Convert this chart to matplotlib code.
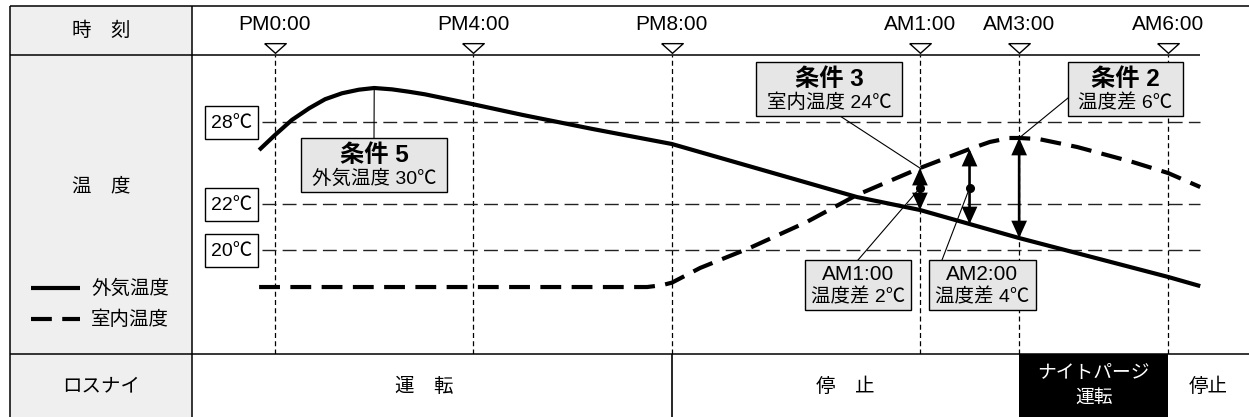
import matplotlib
matplotlib.use('Agg')
import matplotlib.pyplot as plt
import numpy as np
from matplotlib.patches import Rectangle
from matplotlib.path import Path

plt.rcParams['font.family'] = ['Liberation Sans', 'Noto Sans CJK JP']

W, H = 1249, 417

# time in hours, values above 24 are the next morning
tick_hours = [12, 16, 20, 25, 27, 30]
tick_labels = ['PM0:00', 'PM4:00', 'PM8:00', 'AM1:00', 'AM3:00', 'AM6:00']

# outdoor temperature (solid)
out_hours = [11.68, 12.0, 12.34, 12.69, 13.01, 13.35, 13.69, 14.0, 14.36, 14.7, 15.02,
             16.0, 17.0, 18.4, 20.0, 23.73, 25.0, 26.0, 27.0, 30.0, 30.65]
out_temps = [25.95, 27.05, 28.12, 28.81, 29.34, 29.69, 29.9, 30.0, 29.92, 29.78, 29.63,
             29.04, 28.41, 27.49, 26.39, 22.51, 21.74, 21.13, 20.52, 18.83, 18.43]

# indoor temperature (dashed)
in_hours = [11.68, 19.5, 19.8, 20.0, 20.57, 21.57, 22.72, 23.73, 25.0, 26.0, 26.41,
            26.8, 27.0, 27.4, 28.17, 29.29, 30.0, 30.65]
in_temps = [18.39, 18.39, 18.47, 18.58, 19.22, 20.09, 21.22, 22.66, 24.63, 26.02, 26.54,
            26.83, 26.83, 26.75, 26.17, 25.07, 24.27, 23.24]

ref_temps = [28, 22, 20]
ref_labels = ['28℃', '22℃', '20℃']

# temperature difference arrows
arrow_hours = [25, 26, 27]
arrow_low = [21.74, 21.13, 20.52]
arrow_high = [24.63, 26.02, 26.83]
dot_hours = [25, 26]
dot_temps = [23.17, 23.17]
peak_hour, peak_temp = 14.0, 30.0

# ロスナイ operation row
mode_changes = [20]
purge_start, purge_end = 27, 30
mode_labels = ['運　転', '停　止', 'ナイトパージ\n運転', '停止']
mode_centers = [15.0, 23.5, 28.5, 30.82]

# the drawing's temperature axis is schematic (not linear)
scale_t = [10, 20, 22, 28, 30, 36]
scale_u = [-126, 104, 150, 232, 266, 368]


def fwd(t):
    return np.interp(t, scale_t, scale_u)


def inv(u):
    return np.interp(u, scale_u, scale_t)


def rect(x0, y0, x1, y1):
    return [x0 / W, 1 - y1 / H, (x1 - x0) / W, (y1 - y0) / H]


fig = plt.figure(figsize=(W / 100, H / 100), dpi=100)
fig.patch.set_facecolor('white')

ax = fig.add_axes(rect(192, 55, 1249, 354))
ax_head = fig.add_axes(rect(192, 6, 1249, 55), sharex=ax)
ax_bot = fig.add_axes(rect(192, 354, 1249, 417), sharex=ax)
ov = fig.add_axes([0, 0, 1, 1], zorder=5)

ax.set_yscale('function', functions=(fwd, inv))
ax.set_ylim(inv(0), inv(299))
ax.set_xlim(12 + (192 - 275) / 49.61, 12 + (1249 - 275) / 49.61)
ax_head.set_ylim(55, 6)
ax_bot.set_ylim(417, 354)
ov.set_xlim(0, W)
ov.set_ylim(H, 0)
for a in (ax, ax_head, ax_bot, ov):
    a.set_axis_off()
    a.patch.set_alpha(0)

# time markers
for h in tick_hours:
    ax.axvline(h, color='black', lw=0.9, ls=(0, (4, 2.6)))
tri = Path([(-1, 0.45), (1, 0.45), (0, -0.45), (-1, 0.45)])
ax_head.plot(tick_hours, [48] * len(tick_hours), ls='none', marker=tri, ms=15.5,
             mfc='white', mec='black', mew=1.0)
for h, lab in zip(tick_hours, tick_labels):
    ax_head.text(h, 24, lab, ha='center', va='center', fontsize=15)

# reference temperatures
ax.hlines(ref_temps, 11.74, 30.65, color='#222222', lw=1.0, linestyles=[(0, (10, 4.5))])

l_out, = ax.plot(out_hours, out_temps, color='black', lw=3.0, solid_capstyle='butt',
                 solid_joinstyle='round', label='外気温度')
l_in, = ax.plot(in_hours, in_temps, color='black', lw=3.0, dashes=(5, 2.5),
                dash_joinstyle='round', label='室内温度')

for h, lo, hi in zip(arrow_hours, arrow_low, arrow_high):
    ax.annotate('', xy=(h, hi), xytext=(h, lo),
                arrowprops=dict(arrowstyle='<|-|>,head_length=0.42,head_width=0.19',
                                mutation_scale=22, lw=1.9, color='black',
                                shrinkA=0, shrinkB=0, joinstyle='miter'))
ax.plot(dot_hours, dot_temps, 'o', color='black', ms=5.5)

# operation row
for h in mode_changes:
    ax_bot.axvline(h, color='black', lw=1.2)
ax_bot.axvspan(purge_start, purge_end, color='black', lw=0)
for c, lab in zip(mode_centers, mode_labels):
    col = 'white' if '\n' in lab else 'black'
    ys = 386 if '\n' in lab else 387
    ax_bot.text(c, ys, lab, ha='center', va='center', fontsize=13.5 if col == 'white' else 14,
                color=col, linespacing=1.6)


def to_px(h, t):
    return ov.transData.inverted().transform(ax.transData.transform((h, t)))


# table frame and left column
ov.add_patch(Rectangle((10, 6), 182, 411, fc='#efefef', ec='none', zorder=0))
tl = dict(color='black', lw=1.1, solid_capstyle='butt')
ov.plot([10, W], [6, 6], **tl)
ov.plot([10, 10], [6, H], **tl)
ov.plot([192, 192], [6, H], **tl)
ov.plot([10, 1200], [55, 55], **tl)
ov.plot([10, W], [354, 354], **tl)
ov.text(101, 31, '時　刻', ha='center', va='center', fontsize=14)
ov.text(101, 187, '温　度', ha='center', va='center', fontsize=14)
ov.text(101, 387, 'ロスナイ', ha='center', va='center', fontsize=14)

fig.legend(handles=[l_out, l_in], loc='upper left', bbox_to_anchor=(31 / W, 1 - 280 / H),
           frameon=False, fontsize=14, handlelength=2.5, handletextpad=0.6,
           labelspacing=0.65, borderpad=0, borderaxespad=0)

# temperature label boxes
for t, lab in zip(ref_temps, ref_labels):
    y = to_px(12, t)[1]
    ov.add_patch(Rectangle((205, y - 16.5), 53, 33, fc='white', ec='black', lw=1.0))
    ov.text(231.5, y + 1, lab, ha='center', va='center', fontsize=14)


def note(x0, y0, w, h, title, sub, bold=True):
    ov.add_patch(Rectangle((x0, y0), w, h, fc='#e6e6e6', ec='black', lw=1.0, zorder=3))
    cx = x0 + w / 2
    if bold:
        ov.text(cx, y0 + 17, title, ha='center', va='center', fontsize=17.5,
                fontweight='bold', zorder=4)
        ov.text(cx, y0 + 41, sub, ha='center', va='center', fontsize=14, zorder=4)
    else:
        ov.text(cx, y0 + 15, title, ha='center', va='center', fontsize=15, zorder=4)
        ov.text(cx, y0 + 37, sub, ha='center', va='center', fontsize=14, zorder=4)


def leader(px, py, h, t):
    ex, ey = to_px(h, t)
    ov.plot([px, ex], [py, ey], color='black', lw=0.8, zorder=2)


note(301, 138, 146, 54, '条件 5', '外気温度 30℃')
leader(374, 138, peak_hour, peak_temp)
note(756, 62, 146, 54, '条件 3', '室内温度 24℃')
leader(840, 116, arrow_hours[0], arrow_high[0])
note(1068, 62, 115, 54, '条件 2', '温度差 6℃')
leader(1068, 98, arrow_hours[2], arrow_high[2])
note(805, 260, 106, 50, 'AM1:00', '温度差 2℃', bold=False)
leader(858, 260, dot_hours[0], dot_temps[0])
note(929, 260, 107, 50, 'AM2:00', '温度差 4℃', bold=False)
leader(942, 260, dot_hours[1], dot_temps[1])

fig.savefig('out.png', dpi=100)
